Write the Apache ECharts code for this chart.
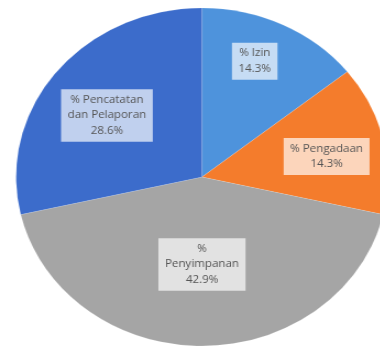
<!DOCTYPE html>
<html>
<head>
<meta charset="utf-8">
<script src="https://cdn.jsdelivr.net/npm/echarts@6/dist/echarts.min.js"></script>
<style>
html,body{margin:0;padding:0;background:#fff;overflow:hidden;width:380px;height:350px;}
#c{width:346px;height:350px;transform:scaleX(1.1);transform-origin:0 0;}
</style>
</head>
<body>
<div id="c"></div>
<script>
// Data
var categories = ['% Izin', '% Pengadaan', '% Penyimpanan', '% Pencatatan dan Pelaporan'];
var labelNames = ['% Izin', '% Pengadaan', '%\nPenyimpanan', '% Pencatatan\ndan Pelaporan'];
var values = [14.3, 14.3, 42.9, 28.6];
var colors = ['#4E93DC', '#F47C2C', '#A5A5A5', '#3C6CCB'];
// label nudges (style/layout only)
var labelShift = [[10, -37], [28, -1], [0, 0], [-18, -7]];

var chart = echarts.init(document.getElementById('c'), null, {renderer: 'canvas'});
chart.setOption({
  animation: false,
  series: [{
    type: 'pie',
    center: [183.6, 177],
    radius: 169,
    startAngle: 90,
    clockwise: true,
    silent: true,
    itemStyle: {borderColor: 'rgba(255,255,255,0.25)', borderWidth: 0.5},
    label: {
      show: true,
      position: 'inside',
      formatter: function (p) { return labelNames[p.dataIndex] + '\n' + p.value + '%'; },
      color: '#555555',
      fontFamily: 'Open Sans',
      fontSize: 10.5,
      lineHeight: 15.5,
      align: 'center',
      backgroundColor: 'rgba(255,255,255,0.68)',
      padding: [3, 6, 3, 6]
    },
    labelLine: {show: false},
    labelLayout: function (p) {
      var s = labelShift[p.dataIndex];
      return {dx: s[0], dy: s[1]};
    },
    data: categories.map(function (n, i) {
      return {name: n, value: values[i], itemStyle: {color: colors[i]}};
    })
  }]
});
</script>
</body>
</html>
